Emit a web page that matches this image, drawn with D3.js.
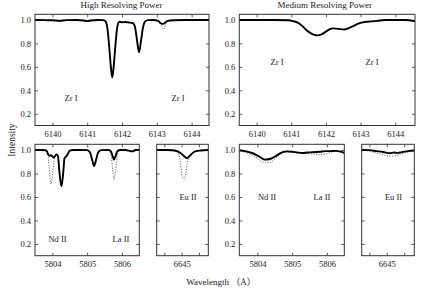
<!DOCTYPE html>
<html><head><meta charset="utf-8">
<script src="https://cdn.jsdelivr.net/npm/d3@7"></script>
<style>body{margin:0;background:#fff}svg{display:block}</style>
</head><body>
<svg id="c" width="436" height="289"></svg>
<script>
// ---- data ----
const zrHighWave  = [6139.5,6139.8,6140.0,6140.2,6140.4,6140.7,6140.9,6141.0,6141.1,6141.3,6141.45,6141.52,6141.58,6141.63,6141.68,6141.72,6141.76,6141.81,6141.86,6141.92,6142.0,6142.1,6142.2,6142.28,6142.33,6142.38,6142.43,6142.49,6142.55,6142.6,6142.66,6142.75,6142.9,6143.05,6143.1,6143.15,6143.2,6143.25,6143.3,6143.5,6143.8,6144.0,6144.3,6144.5];
const zrHighSolid = [1.0,0.998,0.997,0.993,0.998,0.999,0.995,0.99,0.995,1.0,0.998,0.99,0.93,0.78,0.6,0.51,0.6,0.78,0.93,0.985,0.98,0.982,0.978,0.975,0.97,0.93,0.83,0.725,0.83,0.93,0.985,0.998,0.999,0.99,0.975,0.966,0.968,0.98,0.99,0.997,1.0,1.0,1.0,1.0];
const zrHighDot   = [1.0,0.998,0.997,0.993,0.998,0.999,0.995,0.99,0.995,1.0,0.998,0.99,0.93,0.78,0.6,0.51,0.6,0.78,0.93,0.985,0.98,0.982,0.978,0.975,0.97,0.93,0.83,0.725,0.83,0.93,0.985,0.998,0.999,0.99,0.965,0.935,0.92,0.96,0.99,0.997,1.0,1.0,1.0,1.0];

const zrMedWave  = [6139.5,6140.0,6140.5,6140.9,6141.05,6141.2,6141.33,6141.45,6141.57,6141.67,6141.76,6141.88,6142.0,6142.1,6142.2,6142.35,6142.53,6142.65,6142.77,6142.9,6143.02,6143.2,6143.36,6143.55,6143.74,6144.0,6144.3,6144.45,6144.57];
const zrMedSolid = [1.0,1.0,1.0,0.997,0.99,0.975,0.945,0.91,0.885,0.872,0.868,0.878,0.9,0.92,0.928,0.924,0.919,0.93,0.945,0.965,0.977,0.985,0.989,0.995,1.0,1.0,1.0,0.995,0.99];
const zrMedDot   = [1.0,1.0,1.0,0.997,0.99,0.974,0.944,0.909,0.884,0.871,0.867,0.877,0.899,0.919,0.927,0.923,0.918,0.929,0.944,0.963,0.975,0.982,0.986,0.993,0.999,1.0,1.0,0.995,0.99];

const ndHighWave  = [5803.5,5803.7,5803.8,5803.85,5803.88,5803.92,5803.96,5804.0,5804.04,5804.08,5804.12,5804.16,5804.2,5804.26,5804.31,5804.35,5804.4,5804.45,5804.5,5804.6,5804.8,5805.0,5805.08,5805.14,5805.2,5805.26,5805.32,5805.4,5805.6,5805.68,5805.73,5805.77,5805.82,5805.87,5805.95,5806.1,5806.25,5806.3,5806.4,5806.5];
const ndHighSolid = [1.0,1.0,0.997,0.985,0.96,0.95,0.955,0.945,0.935,0.95,0.962,0.95,0.82,0.69,0.8,0.93,0.945,0.97,0.995,1.0,1.0,0.998,0.98,0.92,0.862,0.92,0.98,0.998,1.0,0.99,0.95,0.918,0.95,0.99,1.0,1.0,0.99,0.988,1.0,1.0];
const ndHighDot   = [1.0,1.0,0.997,0.985,0.94,0.8,0.71,0.78,0.9,0.95,0.962,0.95,0.82,0.69,0.8,0.93,0.945,0.97,0.995,1.0,1.0,0.998,0.98,0.92,0.862,0.92,0.98,0.998,1.0,0.97,0.85,0.75,0.83,0.96,1.0,1.0,0.99,0.988,1.0,1.0];

const euHighWave  = [6644.28,6644.6,6644.8,6644.9,6644.96,6645.0,6645.04,6645.08,6645.12,6645.16,6645.2,6645.24,6645.32,6645.42,6645.55,6645.77];
const euHighSolid = [1.0,1.0,0.995,0.985,0.975,0.965,0.955,0.945,0.935,0.93,0.94,0.95,0.975,0.99,0.995,1.0];
const euHighDot   = [1.0,1.0,0.995,0.98,0.9,0.8,0.76,0.75,0.8,0.88,0.93,0.95,0.975,0.99,0.995,1.0];

const ndMedWave  = [5803.48,5803.65,5803.85,5804.04,5804.15,5804.23,5804.38,5804.52,5804.71,5804.85,5805.0,5805.15,5805.29,5805.45,5805.58,5805.8,5805.96,5806.1,5806.25,5806.4,5806.5];
const ndMedSolid = [0.997,0.99,0.974,0.946,0.925,0.918,0.925,0.946,0.98,0.988,0.985,0.978,0.974,0.978,0.98,0.985,0.99,0.99,0.992,0.985,0.975];
const ndMedDot   = [0.99,0.98,0.955,0.92,0.895,0.89,0.895,0.93,0.972,0.982,0.982,0.974,0.97,0.968,0.966,0.96,0.965,0.978,0.988,0.982,0.972];

const euMedWave  = [6644.28,6644.5,6644.7,6644.9,6645.0,6645.1,6645.2,6645.3,6645.45,6645.6,6645.79];
const euMedSolid = [1.0,0.998,0.99,0.982,0.975,0.972,0.978,0.975,0.982,0.99,0.995];
const euMedDot   = [1.0,0.99,0.975,0.96,0.95,0.946,0.948,0.955,0.97,0.98,0.99];

const yTicks = [0.2,0.4,0.6,0.8,1.0];
const titles = ["High Resolving Power","Medium Resolving Power"];
const yLabel = "Intensity";
const xLabel = "Wavelength （Å）";

// ---- panels ----
const panels = [
  {x0:35, x1:209, y0:14.3, y1:125.5, dom:[6139.5,6144.5], ticks:[6140,6141,6142,6143,6144], labels:[6140,6141,6142,6143,6144], yl:true,
   wave:zrHighWave, solid:zrHighSolid, dot:zrHighDot, notes:[["Zr I",71,97.7],["Zr I",178,97.7]]},
  {x0:239.3, x1:415, y0:14.3, y1:125.5, dom:[6139.5,6144.57], ticks:[6140,6141,6142,6143,6144], labels:[6140,6141,6142,6143,6144], yl:true,
   wave:zrMedWave, solid:zrMedSolid, dot:zrMedDot, notes:[["Zr I",277,62],["Zr I",372,62]]},
  {x0:35, x1:139.3, y0:144.3, y1:255.7, dom:[5803.5,5806.5], ticks:[5804,5805,5806], labels:[5804,5805,5806], yl:true,
   wave:ndHighWave, solid:ndHighSolid, dot:ndHighDot, notes:[["Nd II",57.5,239.3],["La II",121,239.3]]},
  {x0:156.7, x1:208.3, y0:144.3, y1:255.7, dom:[6644.28,6645.77], ticks:[6644.5,6645,6645.5], labels:[6645], yl:false,
   wave:euHighWave, solid:euHighSolid, dot:euHighDot, notes:[["Eu II",188,197]]},
  {x0:239.3, x1:344.3, y0:144.3, y1:255.7, dom:[5803.48,5806.5], ticks:[5804,5805,5806], labels:[5804,5805,5806], yl:true,
   wave:ndMedWave, solid:ndMedSolid, dot:ndMedDot, notes:[["Nd II",267,197],["La II",322,197]]},
  {x0:361.7, x1:414.3, y0:144.3, y1:255.7, dom:[6644.28,6645.79], ticks:[6644.5,6645,6645.5], labels:[6645], yl:false,
   wave:euMedWave, solid:euMedSolid, dot:euMedDot, notes:[["Eu II",393.5,197]]}
];

const svg = d3.select("#c");
const FONT = "'Liberation Serif','DejaVu Serif',serif";
const ink = "#222";

panels.forEach(p => {
  const x = d3.scaleLinear().domain(p.dom).range([p.x0,p.x1]);
  const y = d3.scaleLinear().domain([0.1,1.048]).range([p.y1,p.y0]);
  const g = svg.append("g");
  const clipId = "clip"+Math.round(p.x0)+"_"+Math.round(p.y0);
  g.append("clipPath").attr("id",clipId).append("rect")
    .attr("x",p.x0).attr("y",p.y0).attr("width",p.x1-p.x0).attr("height",p.y1-p.y0);

  const fmtX = d => p.labels.includes(d) ? d3.format("d")(d) : "";
  const ax = (gen, tr) => {
    const a = g.append("g").attr("transform",tr).call(gen);
    a.select(".domain").remove();
    a.selectAll("line").attr("stroke","#333").attr("stroke-width",0.8);
    a.selectAll("text").attr("font-family",FONT).attr("font-size","8.5px").attr("fill",ink);
    return a;
  };
  ax(d3.axisBottom(x).tickValues(p.ticks).tickSize(-3).tickPadding(5).tickFormat(fmtX), `translate(0,${p.y1})`);
  ax(d3.axisTop(x).tickValues(p.ticks).tickSize(-3).tickFormat(""), `translate(0,${p.y0})`);
  ax(d3.axisLeft(y).tickValues(yTicks).tickSize(-3).tickPadding(4).tickFormat(p.yl ? d3.format(".1f") : ""), `translate(${p.x0},0)`);
  ax(d3.axisRight(y).tickValues(yTicks).tickSize(-3).tickFormat(""), `translate(${p.x1},0)`);

  const pts = (vals) => p.wave.map((w,i)=>[w, vals[i]]);
  const line = d3.line().x(d=>x(d[0])).y(d=>y(d[1])).curve(d3.curveMonotoneX);
  const lg = g.append("g").attr("clip-path",`url(#${clipId})`);
  lg.append("path").attr("d",line(pts(p.dot))).attr("fill","none")
    .attr("stroke","#555").attr("stroke-width",1).attr("stroke-dasharray","1,1.6");
  lg.append("path").attr("d",line(pts(p.solid))).attr("fill","none")
    .attr("stroke","#000").attr("stroke-width",1.9).attr("stroke-linejoin","round");

  g.append("rect").attr("x",p.x0).attr("y",p.y0).attr("width",p.x1-p.x0).attr("height",p.y1-p.y0)
    .attr("fill","none").attr("stroke","#333").attr("stroke-width",1);

  p.notes.forEach(n => {
    g.append("text").attr("x",n[1]).attr("y",n[2]).attr("dy","0.35em").attr("text-anchor","middle")
      .attr("font-family",FONT).attr("font-size","8.5px").attr("fill",ink).text(n[0]);
  });
});

svg.append("text").attr("x",121.5).attr("y",8).attr("text-anchor","middle")
  .attr("font-family",FONT).attr("font-size","9px").attr("fill",ink).text(titles[0]);
svg.append("text").attr("x",324.7).attr("y",8).attr("text-anchor","middle")
  .attr("font-family",FONT).attr("font-size","9px").attr("fill",ink).text(titles[1]);
svg.append("text").attr("transform","translate(15,140) rotate(-90)").attr("text-anchor","middle")
  .attr("font-family",FONT).attr("font-size","9.5px").attr("fill",ink).text(yLabel);
svg.append("text").attr("x",221).attr("y",285).attr("text-anchor","middle")
  .attr("font-family","'Liberation Serif','Noto Sans CJK SC',serif").attr("font-size","9px").attr("fill",ink).text(xLabel);
</script>
</body></html>
